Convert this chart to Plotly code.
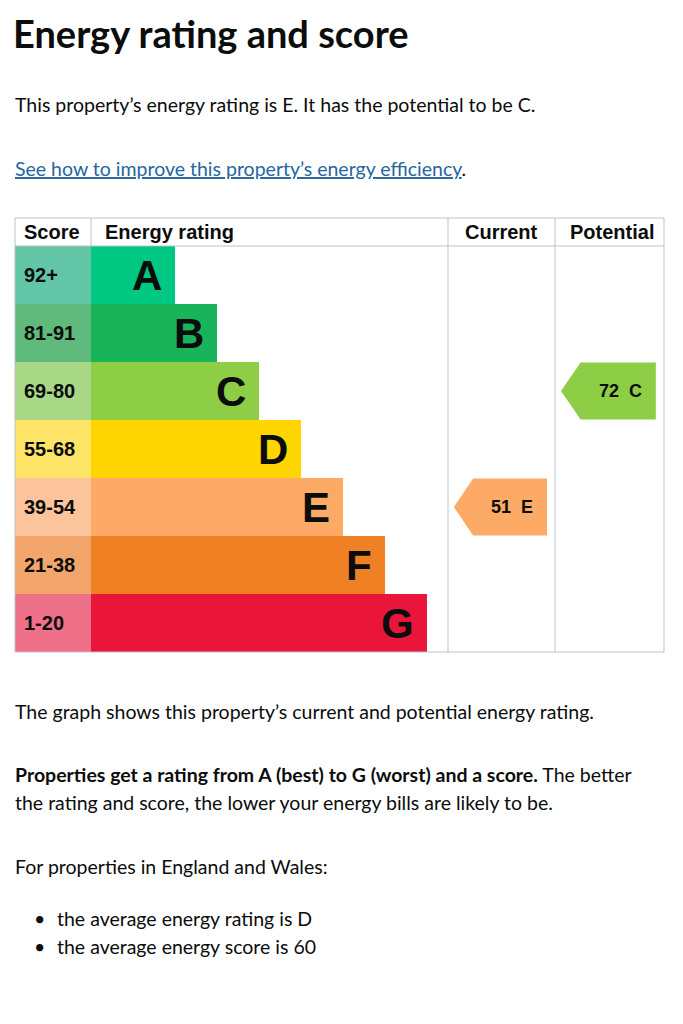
import plotly.graph_objects as go

# the page body keeps its default 8px margin, so the figure is drawn 8px in
OFF = 8
W, H = 683 - OFF, 1024 - OFF

# rating bands, top (best) to bottom (worst)
bands = ["A", "B", "C", "D", "E", "F", "G"]
score_ranges = ["92+", "81-91", "69-80", "55-68", "39-54", "21-38", "1-20"]
band_min_score = [92, 81, 69, 55, 39, 21, 1]

current_score = 51
potential_score = 72

band_colours = ["#00c781", "#19b459", "#8dce46", "#ffd500", "#fcaa65", "#ef8023", "#e9153b"]
score_colours = ["#62c6a6", "#5fba7c", "#a8d886", "#fde366", "#fbc49a", "#f3a66b", "#ef7089"]

TEXT = "#0b0c0c"
BODY_FONT = "Lato"
CHART_FONT = "Liberation Sans"
GRID = "#bfc1c3"


def px_x(p):
    return (p - OFF) / W


def px_y(p):
    return 1 - (p - OFF) / H


def band_of(score):
    for i, lo in enumerate(band_min_score):
        if score >= lo:
            return i
    return len(bands) - 1


rows = list(range(len(bands)))
bar_len = [i + 2 for i in rows]   # each band one step longer than the last

fig = go.Figure()

# score column
fig.add_trace(go.Bar(
    x=[1] * len(bands), y=rows, orientation="h", width=1,
    marker=dict(color=score_colours, line=dict(width=0)),
    xaxis="x", yaxis="y", hoverinfo="skip"))

# energy rating bars
fig.add_trace(go.Bar(
    x=bar_len, y=rows, orientation="h", width=1,
    marker=dict(color=band_colours, line=dict(width=0)),
    xaxis="x2", yaxis="y", hoverinfo="skip"))


def arrow(score, axis):
    k = band_of(score)
    tip, notch, right, h = 0.055, 0.235, 0.925, 0.49
    fig.add_trace(go.Scatter(
        x=[tip, notch, right, right, notch, tip],
        y=[k, k - h, k - h, k + h, k + h, k],
        fill="toself", fillcolor=band_colours[k], mode="lines",
        line=dict(width=0), xaxis=axis, yaxis="y", hoverinfo="skip"))
    fig.add_annotation(
        x=(notch + right) / 2 + 0.02, y=k, xref=axis, yref="y", yanchor="middle",
        text=f"<b>{score}  {bands[k]}</b>", showarrow=False,
        font=dict(family=CHART_FONT, size=18, color=TEXT))


arrow(current_score, "x3")
arrow(potential_score, "x4")

# letters inside bars and score ranges
for i in rows:
    fig.add_annotation(
        x=bar_len[i], y=i, xref="x2", yref="y", xanchor="right", yanchor="middle",
        xshift=-11, text=f"<b>{bands[i]}</b>", showarrow=False,
        font=dict(family=CHART_FONT, size=42, color=TEXT))
    fig.add_annotation(
        x=0.09, y=i, xref="x", yref="y", xanchor="left", yanchor="middle",
        text=f"<b>{score_ranges[i]}</b>", showarrow=False,
        font=dict(family=CHART_FONT, size=20, color=TEXT))

# table header
header_y = px_y(232)
for label, x, anchor in [("Score", 22, "left"), ("Energy rating", 103, "left"),
                         ("Current", 501, "center"), ("Potential", 612, "center")]:
    fig.add_annotation(
        x=px_x(x), y=header_y, xref="paper", yref="paper",
        xanchor=anchor, yanchor="middle",
        text=f"<b>{label}</b>", showarrow=False,
        font=dict(family=CHART_FONT, size=20, color=TEXT))

# table lines
line = dict(color=GRID, width=1)
shapes = [
    dict(type="rect", x0=px_x(15), x1=px_x(664), y0=px_y(218), y1=px_y(652)),
    dict(type="line", x0=px_x(15), x1=px_x(664), y0=px_y(246), y1=px_y(246)),
    dict(type="line", x0=px_x(91), x1=px_x(91), y0=px_y(218), y1=px_y(246)),
    dict(type="line", x0=px_x(448), x1=px_x(448), y0=px_y(218), y1=px_y(652)),
    dict(type="line", x0=px_x(555), x1=px_x(555), y0=px_y(218), y1=px_y(652)),
]
for s in shapes:
    fig.add_shape(xref="paper", yref="paper", line=line, layer="above", **s)

# page text
BODY = 19.5
page_text = [
    ("<b>Energy rating and score</b>", 11, 33, 38),
    ("This property’s energy rating is E. It has the potential to be C.", 13, 104, BODY),
    ("<span style='color:#2467a0'><u>See how to improve this property’s energy efficiency</u></span>.",
     13, 169, BODY),
    ("The graph shows this property’s current and potential energy rating.", 13, 711, BODY),
    ("<b>Properties get a rating from A (best) to G (worst) and a score.</b> The better",
     13, 774, BODY),
    ("the rating and score, the lower your energy bills are likely to be.", 13, 802, BODY),
    ("For properties in England and Wales:", 13, 866, BODY),
    ("•", 32, 918, BODY),
    ("the average energy rating is D", 55, 918, BODY),
    ("•", 32, 946, BODY),
    ("the average energy score is 60", 55, 946, BODY),
]
for text, x, y, size in page_text:
    fig.add_annotation(
        x=px_x(x), y=px_y(y), xref="paper", yref="paper",
        xanchor="left", yanchor="middle", text=text, showarrow=False,
        font=dict(family=BODY_FONT, size=size, color=TEXT))

hidden = dict(visible=False, fixedrange=True)
fig.update_layout(
    width=W, height=H,
    margin=dict(l=0, r=0, t=0, b=0),
    paper_bgcolor="white", plot_bgcolor="white",
    showlegend=False, barmode="overlay",
    xaxis=dict(domain=[px_x(15), px_x(91)], range=[0, 1], anchor="y", **hidden),
    xaxis2=dict(domain=[px_x(91), px_x(448)], range=[0, 8.5], anchor="y", **hidden),
    xaxis3=dict(domain=[px_x(448), px_x(555)], range=[0, 1], anchor="y", **hidden),
    xaxis4=dict(domain=[px_x(555), px_x(664)], range=[0, 1], anchor="y", **hidden),
    yaxis=dict(domain=[px_y(652), px_y(246)], range=[6.5, -0.5], **hidden),
)

fig.write_html("out.html")
